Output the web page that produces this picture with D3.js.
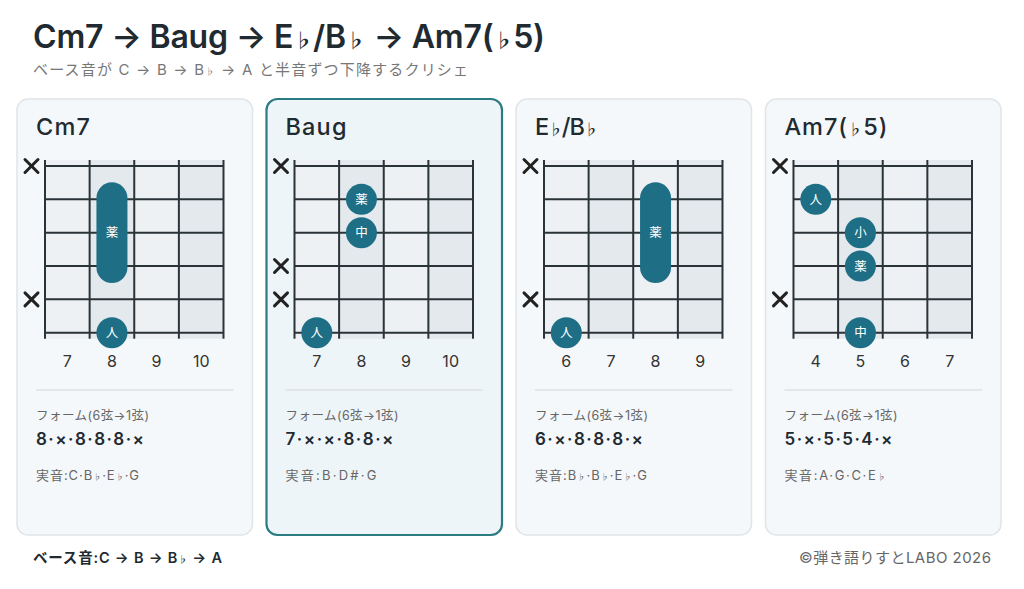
<!DOCTYPE html>
<html>
<head>
<meta charset="utf-8">
<script src="https://cdn.jsdelivr.net/npm/d3@7/dist/d3.min.js"></script>
<style>
html,body{margin:0;padding:0;background:#fff;}
svg{display:block;font-family:"Inter","Noto Sans CJK JP",sans-serif;}
</style>
</head>
<body>
<svg id="chart" width="1024" height="589"></svg>
<script>
// ---- data ----
const titleText = "Cm7 → Baug → E♭/B♭ → Am7(♭5)";
const subtitleText = "ベース音が C → B → B♭ → A と半音ずつ下降するクリシェ";
const chordNames = ["Cm7", "Baug", "E♭/B♭", "Am7(♭5)"];
const startFrets = [7, 7, 6, 4];
// forms: 6th string -> 1st string
const forms = [
  ["8","×","8","8","8","×"],
  ["7","×","×","8","8","×"],
  ["6","×","8","8","8","×"],
  ["5","×","5","5","4","×"]
];
const realNotes = ["C·B♭·E♭·G", "B·D#·G", "B♭·B♭·E♭·G", "A·G·C·E♭"];
// single-finger dots: [string, fret, finger]
const dots = [
  [[6, 8, "人"]],
  [[6, 7, "人"], [3, 8, "中"], [2, 8, "薬"]],
  [[6, 6, "人"]],
  [[6, 5, "中"], [4, 5, "薬"], [3, 5, "小"], [2, 4, "人"]]
];
// barres: [fromString, toString, fret, finger]
const barres = [
  [[4, 2, 8, "薬"]],
  [],
  [[4, 2, 8, "薬"]],
  []
];
const highlighted = [false, true, false, false];
const bassLine = "ベース音:C → B → B♭ → A";
const credit = "©弾き語りすとLABO 2026";

const cardTitleWidths = [54, 61, 61, 103];
const realNoteWidths = [103, 91, 112, 101];

// ---- drawing ----
const svg = d3.select("#chart");
const dark = "#1f2a31";
const teal = "#1e6f86";

// write text with small flat signs
function rich(sel, str) {
  const parts = str.split(/(♭)/);
  parts.forEach(p => {
    if (!p) return;
    const t = sel.append("tspan").text(p);
    if (p === "♭") t.attr("font-size", "0.62em").attr("font-family", "Noto Sans CJK JP");
  });
  return sel;
}
// spread letters so the text spans a given width
function fit(sel, target) {
  const node = sel.node();
  const w = node.getComputedTextLength();
  const n = node.textContent.length;
  if (n > 1) sel.attr("letter-spacing", Math.max(-1, (target - w) / (n - 1)));
  return sel;
}

fit(rich(svg.append("text").attr("x", 33).attr("y", 48)
  .attr("font-size", 32).attr("font-weight", 600).attr("fill", dark), titleText), 512);
fit(rich(svg.append("text").attr("x", 33).attr("y", 75)
  .attr("font-size", 15).attr("fill", "#777"), subtitleText), 435);

const cardX = d3.scaleBand().domain(d3.range(chordNames.length))
  .range([17, 1001]).paddingInner(0.056).paddingOuter(0);
const cardTop = 99, cardH = 436;

const cards = svg.selectAll("g.card").data(chordNames).join("g")
  .attr("class", "card")
  .attr("transform", (d, i) => `translate(${cardX(i)},${cardTop})`);

cards.append("rect")
  .attr("x", 0).attr("y", 0)
  .attr("width", cardX.bandwidth()).attr("height", cardH)
  .attr("rx", 11)
  .attr("fill", (d, i) => highlighted[i] ? "#eef5f8" : "#f5f8fa")
  .attr("stroke", (d, i) => highlighted[i] ? "#2b7b82" : "#e0e5e8")
  .attr("stroke-width", (d, i) => highlighted[i] ? 2.2 : 1.5);

cards.each(function(d, i) {
  fit(rich(d3.select(this).append("text").attr("x", 19).attr("y", 36)
    .attr("font-size", 23.5).attr("font-weight", 500).attr("fill", dark), d), cardTitleWidths[i]);
});

const fx0 = 28, fx1 = 206.5;
const sy0 = 67, sy1 = 233.7;
const colX = d3.scaleLinear().domain([0, 4]).range([fx0, fx1]);
const strY = d3.scaleLinear().domain([1, 6]).range([sy0, sy1]);

cards.each(function(name, i) {
  const g = d3.select(this);
  const start = startFrets[i];
  const cols = d3.range(4);
  // column backgrounds
  g.selectAll("rect.col").data(cols).join("rect")
    .attr("x", c => colX(c)).attr("y", sy0 - 6)
    .attr("width", colX(1) - colX(0)).attr("height", sy1 - sy0 + 12)
    .attr("fill", c => c % 2 === 1 ? "#e3e9ec" : "#edf1f3");
  // strings
  g.selectAll("line.str").data(d3.range(1, 7)).join("line")
    .attr("x1", fx0).attr("x2", fx1)
    .attr("y1", s => strY(s)).attr("y2", s => strY(s))
    .attr("stroke", "#2a3338").attr("stroke-width", 2);
  // frets
  g.selectAll("line.fret").data(d3.range(5)).join("line")
    .attr("x1", c => colX(c)).attr("x2", c => colX(c))
    .attr("y1", sy0 - 6).attr("y2", sy1 + 6)
    .attr("stroke", "#2a3338").attr("stroke-width", 2);
  // fret numbers
  g.selectAll("text.fn").data(cols).join("text")
    .attr("x", c => colX(c + 0.5)).attr("y", 268)
    .attr("text-anchor", "middle").attr("font-size", 16).attr("fill", "#333")
    .text(c => start + c);
  // muted strings
  const muted = forms[i].map((v, k) => ({v, s: 6 - k})).filter(o => o.v === "×");
  const xm = g.selectAll("g.mute").data(muted).join("g")
    .attr("transform", o => `translate(14.5,${strY(o.s)})`);
  xm.append("line").attr("x1", -6.5).attr("y1", -6.5).attr("x2", 6.5).attr("y2", 6.5)
    .attr("stroke", "#222").attr("stroke-width", 3).attr("stroke-linecap", "round");
  xm.append("line").attr("x1", 6.5).attr("y1", -6.5).attr("x2", -6.5).attr("y2", 6.5)
    .attr("stroke", "#222").attr("stroke-width", 3).attr("stroke-linecap", "round");
  // barres
  barres[i].forEach(b => {
    const cx = colX(b[2] - start + 0.5);
    const yTop = strY(b[1]) - 17, yBot = strY(b[0]) + 17;
    g.append("rect").attr("x", cx - 15.5).attr("y", yTop)
      .attr("width", 31).attr("height", yBot - yTop).attr("rx", 15.5)
      .attr("fill", teal);
    g.append("text").attr("x", cx).attr("y", (yTop + yBot) / 2 + 4.5)
      .attr("text-anchor", "middle").attr("font-size", 12.5).attr("fill", "#fff")
      .attr("font-family", "Noto Sans CJK JP").text(b[3]);
  });
  // dots
  const dg = g.selectAll("g.dot").data(dots[i]).join("g")
    .attr("transform", d => `translate(${colX(d[1] - start + 0.5)},${strY(d[0])})`);
  dg.append("circle").attr("r", 15.5).attr("fill", teal);
  dg.append("text").attr("y", 4.5).attr("text-anchor", "middle")
    .attr("font-size", 12.5).attr("fill", "#fff")
    .attr("font-family", "Noto Sans CJK JP").text(d => d[2]);
  // separator
  g.append("line").attr("x1", 19).attr("x2", cardX.bandwidth() - 19)
    .attr("y1", 291).attr("y2", 291).attr("stroke", "#dde2e5").attr("stroke-width", 1.5);
  fit(g.append("text").attr("x", 19).attr("y", 321)
    .attr("font-size", 12.5).attr("fill", "#666").text("フォーム(6弦→1弦)"), 113);
  fit(g.append("text").attr("x", 19).attr("y", 346)
    .attr("font-size", 17).attr("font-weight", 600).attr("fill", dark)
    .text(forms[i].join("·")), 108);
  fit(rich(g.append("text").attr("x", 19).attr("y", 381)
    .attr("font-size", 13).attr("fill", "#666"), "実音:" + realNotes[i]), realNoteWidths[i]);
});

fit(rich(svg.append("text").attr("x", 33).attr("y", 563)
  .attr("font-size", 14.5).attr("font-weight", 600).attr("fill", dark), bassLine), 189);
fit(svg.append("text").attr("x", 799).attr("y", 563)
  .attr("font-size", 15).attr("fill", "#666").text(credit), 192);
</script>
</body>
</html>
